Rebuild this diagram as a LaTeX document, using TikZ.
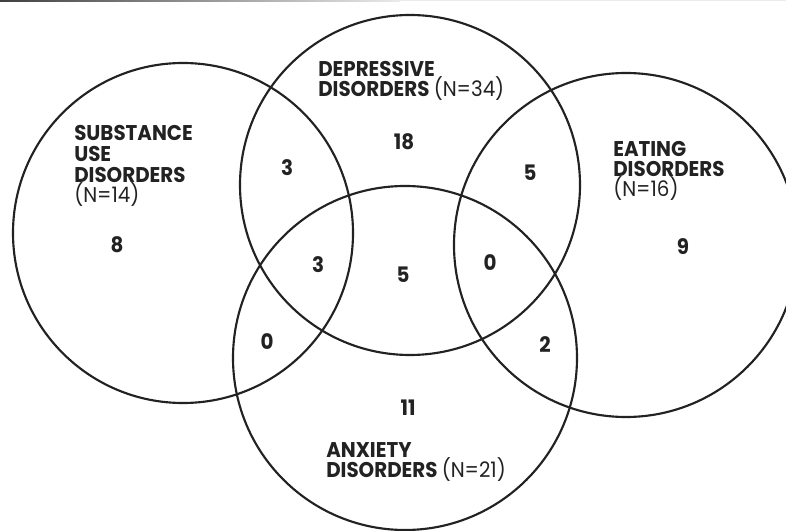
\documentclass[tikz,border=0pt]{standalone}
\usepackage{fontspec}
\setmainfont{Poppins}[FakeStretch=0.93]
\definecolor{ink}{HTML}{222222}
\tikzset{
  ring/.style={draw=ink, line width=1.6pt},
  lab/.style={anchor=base west, inner sep=0pt, text height=11pt, text depth=2.5pt, text=ink, font=\fontsize{16}{19}\selectfont\bfseries},
  num/.style={inner sep=0pt, text=ink, font=\fontsize{16}{19}\selectfont\bfseries},
}
\newcommand{\nval}[1]{{\mdseries #1}}
\begin{document}
\begin{tikzpicture}[x=0.75pt,y=0.75pt]
\useasboundingbox (0,0) rectangle (786,-531);
\clip (0,0) rectangle (786,-531);
\shade[left color=black!75, right color=black!8] (0,0) rectangle (400,-2);
\fill[black!8] (400,0) rectangle (786,-1.5);
% circles
\draw[ring] (183,-233) circle (170);
\draw[ring] (410,-185) circle (170);
\draw[ring] (626,-245) circle (172);
\draw[ring] (405,-358) circle (172);
% labels
\node[lab] (s1) at (74,-141) {SUBSTANCE};
\node[lab] (s2) at (74,-162) {USE};
\node[lab] (s3) at (74,-183) {DISORDERS};
\node[lab] (s4) at (74,-203) {\nval{(N=14)}};
\node[lab] (d1) at (318,-77) {DEPRESSIVE};
\node[lab] (d2) at (318,-97) {DISORDERS \nval{(N=34)}};
\node[lab] (e1) at (613,-157) {EATING};
\node[lab] (e2) at (613,-177) {DISORDERS};
\node[lab] (e3) at (613,-197) {\nval{(N=16)}};
\node[lab] (a1) at (326,-457) {ANXIETY};
\node[lab] (a2) at (326,-477) {DISORDERS \nval{(N=21)}};
% numbers
\node[num] (n3a) at (287,-168) {3};
\node[num] (n18) at (404,-142) {18};
\node[num] (n5a) at (530,-173) {5};
\node[num] (n8) at (117,-245) {8};
\node[num] (n3b) at (318,-265) {3};
\node[num] (n5b) at (403,-275) {5};
\node[num] (n0a) at (490,-263) {0};
\node[num] (n9) at (683,-247) {9};
\node[num] (n0b) at (267,-342) {0};
\node[num] (n2) at (545,-345) {2};
\node[num] (n11) at (408,-408) {11};
\end{tikzpicture}
\end{document}
